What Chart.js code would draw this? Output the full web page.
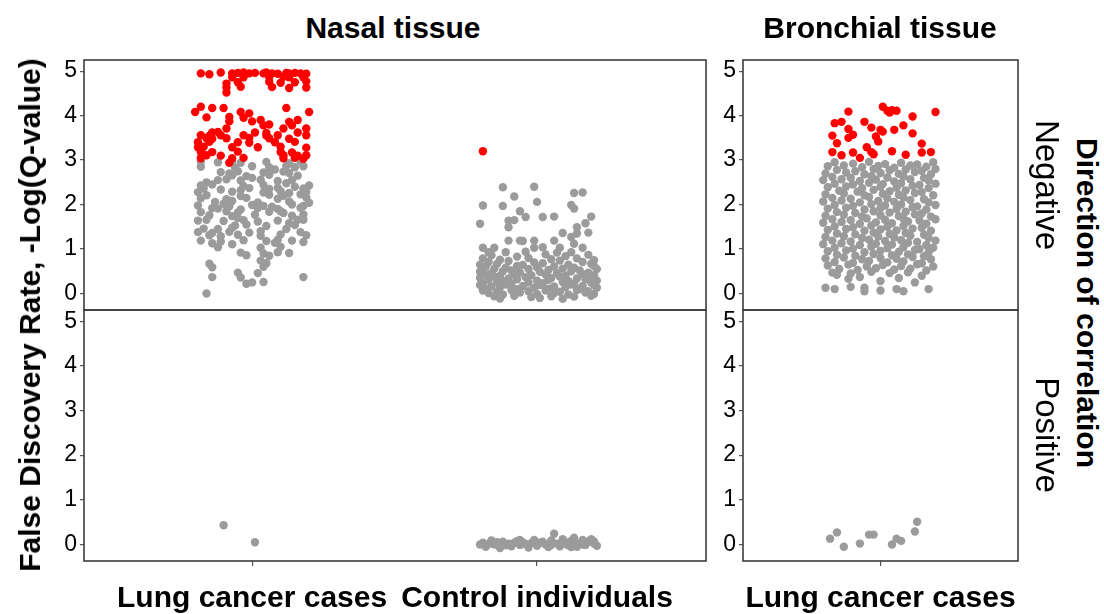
<!DOCTYPE html>
<html>
<head>
<meta charset="utf-8">
<script src="https://cdn.jsdelivr.net/npm/chart.js@4/dist/chart.umd.min.js"></script>
<style>
  *{margin:0;padding:0;box-sizing:border-box}
  html,body{width:1104px;height:614px;background:#fff;overflow:hidden}
  body{position:relative;font-family:'Liberation Sans',Arial,sans-serif;color:#000}
  canvas{position:absolute}
  .lbl{position:absolute;white-space:nowrap;line-height:1}
  .bold{font-weight:bold;font-size:30px}
  .strip{font-size:33px}
  .title{top:13px;transform:translateX(-50%)}
  .rot-l{transform:translate(-50%,-50%) rotate(-90deg)}
  .rot-r{transform:translate(-50%,-50%) rotate(90deg)}
</style>
</head>
<body>
<canvas id="nasalNeg"></canvas>
<canvas id="nasalPos"></canvas>
<canvas id="bronchNeg"></canvas>
<canvas id="bronchPos"></canvas>

<div class="lbl bold title" style="left:393px">Nasal tissue</div>
<div class="lbl bold title" style="left:880px">Bronchial tissue</div>
<div class="lbl bold rot-l" style="left:30px;top:315px">False Discovery Rate, -Log(Q-value)</div>
<div class="lbl strip rot-r" style="left:1047px;top:185px">Negative</div>
<div class="lbl strip rot-r" style="left:1047px;top:435px">Positive</div>
<div class="lbl bold rot-r" style="left:1087px;top:303px">Direction of correlation</div>

<script>
// ─── Data ──────────────────────────────────────────────────────
// x = category position + jitter, y = -log(Q-value)

const nasalCats = ["Lung cancer cases", "Control individuals"];
const bronchCats = ["Lung cancer cases"];
const yTicks = [0, 1, 2, 3, 4, 5];

// Nasal, lung cancer cases, negative correlation (significant)
const nasalLungNegRed = [
  [0.82,4.95],[0.85,4.93],[0.89,4.97],[0.93,4.95],[0.95,4.96],[0.97,4.97],[0.99,4.95],[1.01,4.96],
  [1.04,4.95],[1.05,4.97],[1.07,4.95],[1.09,4.94],[1.12,4.96],[1.13,4.95],[1.15,4.96],[1.17,4.95],
  [1.19,4.94],[0.93,4.86],[0.97,4.86],[1.06,4.86],[1.11,4.87],[1.13,4.86],[1.18,4.86],[0.95,4.75],
  [1.06,4.76],[1.10,4.74],[1.15,4.75],[1.19,4.77],[0.91,4.63],[0.96,4.65],[1.07,4.64],[1.13,4.62],
  [1.19,4.63],[0.91,4.52],[0.91,4.72],
  [0.82,4.20],[0.86,4.17],[0.90,4.17],[1.12,4.17],[0.80,4.08],[1.20,4.08],[0.96,4.08],[0.99,4.05],
  [0.84,3.96],[0.92,3.97],[0.97,3.95],[1.03,3.90],[1.16,3.90],[0.92,3.87],[1.00,3.87],[1.13,3.86],
  [1.04,3.78],[1.06,3.80],[1.14,3.78],[0.91,3.71],[1.11,3.71],[1.19,3.71],[0.86,3.62],[0.88,3.63],
  [1.01,3.62],[1.05,3.61],[1.16,3.62],[0.82,3.56],[0.85,3.55],[0.89,3.56],[0.97,3.56],[1.05,3.55],
  [1.09,3.56],[1.19,3.56],[0.84,3.49],[0.86,3.48],[0.91,3.49],[0.99,3.50],[1.06,3.49],[1.13,3.48],
  [0.81,3.40],[0.85,3.41],[0.95,3.40],[0.99,3.39],[1.08,3.40],[1.15,3.41],[0.81,3.29],[0.83,3.30],
  [0.93,3.29],[1.02,3.29],[1.10,3.30],[1.19,3.28],[0.82,3.18],[0.86,3.18],[0.95,3.19],[1.10,3.18],
  [1.14,3.17],[0.84,3.11],[0.89,3.10],[1.11,3.11],[1.16,3.10],[1.19,3.11],[0.82,3.04],[0.93,3.04],
  [0.97,3.05],[1.11,3.04],[1.15,3.05],[1.18,3.03],[0.92,2.94]
];

// Nasal, lung cancer cases, negative correlation (not significant)
const nasalLungNegGray = [
  [0.82,2.96],[0.88,2.95],[0.93,2.97],[0.96,2.94],[1.05,2.96],[1.13,2.93],[1.17,2.97],
  [0.82,2.85],[0.94,2.83],[1.00,2.86],[1.06,2.84],[1.12,2.87],[1.15,2.84],[1.18,2.86],
  [0.89,2.73],[0.95,2.75],[1.04,2.72],[1.11,2.74],[1.13,2.71],
  [0.93,2.66],[0.98,2.64],[1.06,2.67],[1.16,2.65],
  [0.88,2.55],[0.91,2.57],[0.96,2.54],[1.03,2.56],[1.09,2.53],[1.14,2.55],
  [0.82,2.43],[0.86,2.45],[0.97,2.42],[1.04,2.44],[1.20,2.43],
  [0.83,2.36],[0.89,2.34],[0.99,2.37],[1.06,2.35],[1.09,2.38],[1.18,2.36],
  [0.81,2.28],[0.93,2.29],[1.04,2.27],[1.10,2.30],[1.13,2.26],[1.19,2.28],
  [0.84,2.21],[0.96,2.19],[1.06,2.22],[1.11,2.20],[1.17,2.23],
  [0.82,2.14],[0.91,2.12],[0.98,2.15],[1.09,2.13],[1.19,2.16],
  [0.87,2.06],[0.93,2.08],[1.02,2.05],[1.13,2.07],[1.20,2.04],
  [0.81,1.98],[0.92,1.96],[1.00,1.99],[1.04,1.97],[1.14,2.00],[1.18,1.97],
  [0.88,1.91],[0.96,1.89],[1.02,1.92],[1.09,1.90],[1.17,1.93],
  [0.82,1.83],[0.91,1.85],[0.95,1.82],[1.06,1.84],[1.11,1.81],
  [0.85,1.76],[0.93,1.74],[1.01,1.77],[1.14,1.75],[1.18,1.78],
  [0.81,1.64],[0.84,1.66],[0.90,1.63],[0.97,1.65],[1.02,1.62],[1.09,1.64],[1.16,1.66],
  [0.94,1.53],[0.98,1.55],[1.05,1.52],[1.15,1.54],
  [0.83,1.46],[0.93,1.48],[1.12,1.45],
  [0.81,1.38],[0.86,1.36],[0.92,1.39],[0.99,1.37],[1.17,1.38],
  [0.85,1.31],[0.89,1.29],[0.95,1.32],[1.03,1.30],[1.10,1.33],[1.19,1.31],
  [0.82,1.19],[0.89,1.17],[0.97,1.20],[1.05,1.18],[1.09,1.21],[1.14,1.19],[1.18,1.16],
  [0.86,1.13],[0.93,1.11],[1.08,1.14],
  [0.88,1.04],[1.03,1.03],[1.10,1.05],
  [0.96,0.92],[1.04,0.90],[1.09,0.93],[1.13,0.91],
  [0.98,0.86],[1.06,0.85],[1.03,0.74],[0.85,0.67],[1.05,0.68],[0.86,0.59],[1.04,0.60],
  [0.95,0.47],[1.02,0.46],[0.86,0.37],[0.96,0.36],[1.18,0.37],[1.00,0.25],[1.04,0.26],
  [0.98,0.22],[0.84,0.00],
  [0.84,2.50],[1.00,2.60],[1.12,2.48],[0.90,2.02],[1.07,1.95],[0.95,1.70],[1.13,1.58],
  [0.88,1.45],[1.03,1.40],[1.18,1.66],[0.96,2.32],[1.15,2.40],[0.92,2.70],[1.08,2.79],
  [0.86,1.92],[1.10,1.85]
];

// Nasal, control individuals, negative correlation
const nasalCtrlNegRed = [[1.81,3.20]];
const nasalCtrlNegGray = [
  [1.88,2.39],[1.99,2.40],[2.13,2.26],[2.16,2.27],[1.92,2.18],[2.00,2.06],[1.81,1.98],[1.88,1.97],
  [2.12,1.99],[2.13,1.91],[1.94,1.85],[1.96,1.72],[2.02,1.72],[2.06,1.73],[2.19,1.73],[1.90,1.64],
  [1.92,1.65],[1.80,1.57],[2.17,1.58],[1.90,1.49],[2.14,1.49],[2.09,1.36],[2.14,1.35],[2.18,1.37],
  [2.12,1.27],[1.90,1.19],[1.94,1.19],[1.95,1.18],[1.99,1.19],[2.06,1.19],[2.13,1.12],[1.81,1.03],
  [1.85,1.03],[1.99,1.03],[2.02,1.04],[2.08,1.03],[2.16,1.03],[1.83,0.93],[1.89,0.93],[1.96,0.94],
  [2.07,0.92],[2.12,0.93],
  [1.84,0.86],[1.93,0.83],[2.03,0.88],[2.10,0.84],[2.18,0.87],
  [1.81,0.79],[1.87,0.76],[1.97,0.80],[2.05,0.77],[2.14,0.79],[2.20,0.75],
  [1.83,0.71],[1.90,0.73],[1.99,0.70],[2.08,0.74],[2.16,0.71],
  [1.80,0.65],[1.86,0.67],[1.95,0.64],[2.02,0.68],[2.11,0.65],[2.19,0.67],
  [1.82,0.61],[1.89,0.58],[1.93,0.62],[2.00,0.59],[2.06,0.61],[2.13,0.58],[2.20,0.62],
  [1.81,0.53],[1.85,0.56],[1.91,0.52],[1.97,0.55],[2.04,0.53],[2.09,0.56],[2.15,0.52],[2.21,0.55],
  [1.80,0.49],[1.84,0.46],[1.88,0.50],[1.94,0.47],[2.01,0.49],[2.07,0.46],[2.12,0.50],[2.18,0.47],
  [1.82,0.43],[1.87,0.40],[1.92,0.44],[1.98,0.41],[2.03,0.43],[2.10,0.40],[2.16,0.44],[2.20,0.41],
  [1.80,0.35],[1.85,0.38],[1.90,0.34],[1.96,0.37],[2.05,0.35],[2.08,0.38],[2.14,0.34],[2.19,0.37],
  [1.83,0.31],[1.88,0.28],[1.93,0.32],[2.00,0.29],[2.04,0.31],[2.11,0.28],[2.17,0.32],[2.21,0.29],
  [1.81,0.23],[1.86,0.26],[1.91,0.22],[1.97,0.25],[2.02,0.23],[2.09,0.26],[2.13,0.22],[2.19,0.25],
  [1.80,0.19],[1.84,0.16],[1.89,0.20],[1.95,0.17],[2.01,0.19],[2.06,0.16],[2.12,0.20],[2.16,0.17],
  [2.20,0.19],[1.82,0.11],[1.87,0.14],[1.93,0.10],[1.99,0.13],[2.04,0.11],[2.10,0.14],[2.15,0.10],
  [2.21,0.13],[1.81,0.07],[1.86,0.04],[1.91,0.08],[1.97,0.05],[2.03,0.07],[2.08,0.04],[2.14,0.08],
  [2.18,0.05],[1.83,0.01],[1.88,-0.02],[1.94,0.02],[2.00,-0.01],[2.06,0.01],[2.11,-0.02],[2.17,0.02],
  [2.20,-0.01],[1.85,-0.06],[1.92,-0.05],[1.98,-0.08],[2.05,-0.06],[2.13,-0.07],[2.19,-0.05],
  [1.87,-0.11],[2.01,-0.10],[2.09,-0.12]
];

// Nasal, positive correlation
const nasalLungPosGray = [[0.90,0.43],[1.01,0.05]];
const nasalCtrlPosGray = [
  [1.81,0.04],[1.82,-0.05],[1.84,0.09],[1.85,0.00],[1.87,-0.08],[1.88,0.06],[1.90,0.02],[1.91,-0.04],
  [1.93,0.08],[1.94,-0.01],[1.95,0.05],[1.97,-0.07],[1.98,0.03],[1.99,0.10],[2.00,-0.03],[2.02,0.06],
  [2.03,0.00],[2.04,-0.06],[2.05,0.09],[2.06,0.24],[2.07,0.02],[2.08,-0.04],[2.09,0.12],[2.10,0.05],
  [2.11,-0.02],[2.12,0.08],[2.13,0.15],[2.14,-0.05],[2.15,0.03],[2.16,0.10],[2.17,-0.01],[2.18,0.06],
  [2.19,0.12],[2.20,0.02],[2.21,-0.03],[1.83,0.01],[1.86,0.05],[1.89,-0.02],[1.92,0.04],[1.96,0.01],
  [2.01,0.04],[2.05,-0.01],[2.09,0.01],[2.13,0.02],[2.17,0.05],[2.20,0.07],[1.80,0.00],[1.94,0.10],
  [2.12,-0.06],[2.16,0.00]
];

// Bronchial, lung cancer cases, negative correlation
const bronchNegRed = [
  [0.80,3.83],[0.83,3.86],[0.86,4.09],[0.79,3.55],[0.86,3.70],[0.88,3.57],[0.86,3.50],[0.81,3.38],
  [0.79,3.18],[0.83,3.11],[0.88,3.17],[0.93,3.86],[0.96,3.73],[1.00,3.68],[1.01,3.64],[0.98,3.53],
  [0.99,3.42],[0.94,3.29],[0.96,3.18],[0.97,3.13],[1.01,4.20],[1.03,4.11],[1.05,4.12],[1.07,4.11],
  [1.04,4.07],[1.14,3.98],[1.10,3.78],[1.06,3.68],[1.14,3.60],[1.05,3.20],[1.11,3.12],[1.24,4.08],
  [1.22,3.18],[1.18,3.37],[1.18,3.17],[0.91,3.05]
];
const bronchNegGray = [
  [0.80,2.95],[0.88,2.92],[0.95,2.96],[1.02,2.91],[1.09,2.94],[1.16,2.90],[1.23,2.95],
  [0.77,2.86],[0.84,2.88],[0.92,2.84],[0.99,2.87],[1.06,2.83],[1.13,2.88],[1.20,2.85],
  [0.81,2.78],[0.89,2.75],[0.97,2.80],[1.04,2.77],[1.11,2.79],[1.18,2.76],[1.24,2.80],
  [0.76,2.70],[0.85,2.72],[0.93,2.68],[1.00,2.71],[1.08,2.69],[1.15,2.73],[1.22,2.68],
  [0.79,2.62],[0.87,2.60],[0.96,2.64],[1.03,2.61],[1.10,2.63],[1.19,2.60],
  [0.75,2.55],[0.83,2.57],[0.91,2.53],[0.98,2.56],[1.06,2.52],[1.13,2.57],[1.21,2.54],
  [0.80,2.47],[0.88,2.45],[0.95,2.49],[1.01,2.46],[1.09,2.48],[1.17,2.44],[1.24,2.47],
  [0.77,2.39],[0.85,2.41],[0.92,2.37],[1.00,2.40],[1.07,2.38],[1.14,2.42],[1.21,2.37],
  [0.82,2.31],[0.90,2.29],[0.97,2.33],[1.04,2.30],[1.11,2.32],[1.18,2.28],
  [0.76,2.23],[0.84,2.25],[0.93,2.21],[1.01,2.24],[1.08,2.22],[1.15,2.26],[1.23,2.21],
  [0.79,2.15],[0.87,2.13],[0.95,2.17],[1.03,2.14],[1.10,2.16],[1.19,2.12],
  [0.75,2.07],[0.83,2.09],[0.91,2.05],[0.99,2.08],[1.06,2.06],[1.13,2.10],[1.21,2.05],
  [0.80,1.99],[0.88,1.97],[0.96,2.01],[1.02,1.98],[1.09,2.00],[1.16,1.96],[1.24,1.99],
  [0.77,1.91],[0.85,1.93],[0.93,1.89],[1.00,1.92],[1.07,1.90],[1.14,1.94],[1.20,1.89],
  [0.81,1.83],[0.89,1.81],[0.97,1.85],[1.04,1.82],[1.11,1.84],[1.18,1.80],
  [0.76,1.75],[0.84,1.77],[0.92,1.73],[1.00,1.76],[1.08,1.74],[1.15,1.78],[1.22,1.73],
  [0.79,1.67],[0.87,1.65],[0.94,1.69],[1.02,1.66],[1.10,1.68],[1.17,1.64],[1.24,1.67],
  [0.75,1.59],[0.83,1.61],[0.91,1.57],[0.98,1.60],[1.05,1.58],[1.12,1.62],[1.20,1.57],
  [0.80,1.51],[0.88,1.49],[0.96,1.53],[1.03,1.50],[1.10,1.52],[1.18,1.48],
  [0.77,1.43],[0.85,1.45],[0.93,1.41],[1.00,1.44],[1.07,1.42],[1.14,1.46],[1.22,1.41],
  [0.81,1.35],[0.89,1.33],[0.97,1.37],[1.04,1.34],[1.11,1.36],[1.19,1.32],
  [0.76,1.27],[0.84,1.29],[0.92,1.25],[0.99,1.28],[1.06,1.26],[1.13,1.30],[1.21,1.25],
  [0.79,1.19],[0.87,1.17],[0.95,1.21],[1.02,1.18],[1.09,1.20],[1.16,1.16],[1.24,1.19],
  [0.75,1.11],[0.83,1.13],[0.91,1.09],[0.98,1.12],[1.05,1.10],[1.12,1.14],[1.20,1.09],
  [0.80,1.03],[0.88,1.01],[0.96,1.05],[1.03,1.02],[1.10,1.04],[1.17,1.00],[1.23,1.03],
  [0.77,0.95],[0.85,0.97],[0.93,0.93],[1.00,0.96],[1.08,0.94],[1.15,0.98],[1.21,0.93],
  [0.81,0.87],[0.89,0.85],[0.97,0.89],[1.05,0.86],[1.12,0.88],[1.19,0.84],
  [0.76,0.79],[0.84,0.81],[0.92,0.77],[1.00,0.80],[1.07,0.78],[1.14,0.82],[1.22,0.77],
  [0.80,0.71],[0.88,0.69],[0.95,0.73],[1.03,0.70],[1.10,0.72],[1.18,0.68],
  [0.77,0.63],[0.86,0.65],[0.94,0.61],[1.01,0.64],[1.09,0.62],[1.16,0.66],[1.23,0.61],
  [0.82,0.55],[0.90,0.53],[0.98,0.57],[1.06,0.54],[1.13,0.56],[1.20,0.52],
  [0.79,0.47],[0.87,0.45],[0.96,0.49],[1.04,0.46],[1.12,0.48],
  [0.81,0.42],[0.86,0.33],[0.91,0.37],[1.00,0.28],[1.08,0.35],[1.15,0.25],[1.18,0.40],
  [0.76,0.13],[0.80,0.10],[0.87,0.15],[0.93,0.13],[0.93,0.05],[1.00,0.07],[1.07,0.10],
  [1.10,0.05],[1.21,0.10]
];

// Bronchial, lung cancer cases, positive correlation
const bronchPosGray = [
  [0.78,0.13],[0.81,0.27],[0.84,-0.05],[0.91,0.02],[0.95,0.22],[0.97,0.22],[1.05,0.00],
  [1.07,0.13],[1.09,0.08],[1.15,0.29],[1.16,0.51]
];

// ─── Styling ───────────────────────────────────────────────────

const FONT = "'Liberation Sans', Arial, sans-serif";
const GRAY = "#9b9b9b";
const RED = "#ff0000";
const Y_MIN = -0.37;
const Y_MAX = 5.25;

// facet border drawn around each plotting area
const panelBorder = {
  id: "panelBorder",
  afterDraw(chart) {
    const { ctx, chartArea: a } = chart;
    ctx.save();
    ctx.strokeStyle = "#3c3c3c";
    ctx.lineWidth = 1.6;
    ctx.strokeRect(a.left, a.top, a.right - a.left, a.bottom - a.top);
    ctx.restore();
  },
};

function panel(id, box, opt) {
  const c = document.getElementById(id);
  c.width = box.w;
  c.height = box.h;
  c.style.left = box.left + "px";
  c.style.top = box.top + "px";

  const datasets = opt.series.map((s) => ({
    data: s.data.map(([x, y]) => ({ x, y })),
    backgroundColor: s.color,
    borderWidth: 0,
    pointRadius: 4.2,
    pointHoverRadius: 4.2,
  }));

  new Chart(c, {
    type: "scatter",
    data: { datasets },
    options: {
      responsive: false,
      animation: false,
      devicePixelRatio: 1,
      events: [],
      layout: {
        autoPadding: false,
        padding: { top: 5, right: 5, bottom: opt.showX ? 0 : 1, left: 0 },
      },
      plugins: { legend: { display: false }, tooltip: { enabled: false } },
      scales: {
        x: {
          type: "linear",
          min: opt.xMin,
          max: opt.xMax,
          display: opt.showX,
          afterBuildTicks: (s) => { s.ticks = opt.cats.map((_, i) => ({ value: i + 1 })); },
          afterFit: (s) => {
            s.height = opt.showX ? 53 : 0;
            s.paddingLeft = 0;
            s.paddingRight = 0;
          },
          grid: { drawOnChartArea: false, tickLength: 5, tickColor: "#555", lineWidth: 1.2 },
          border: { display: false },
          ticks: {
            color: "#000",
            font: { family: FONT, size: 30, weight: "bold" },
            padding: 15,
            maxRotation: 0,
            autoSkip: false,
            callback: (v) => opt.cats[v - 1],
          },
        },
        y: {
          min: Y_MIN,
          max: Y_MAX,
          afterBuildTicks: (s) => { s.ticks = yTicks.map((v) => ({ value: v })); },
          afterFit: (s) => { s.width = 43; s.paddingTop = 0; s.paddingBottom = 0; },
          grid: { drawOnChartArea: false, tickLength: 4, tickColor: "#555", lineWidth: 1.2 },
          border: { display: false },
          ticks: { color: "#000", font: { family: FONT, size: 23 }, padding: 3 },
        },
      },
    },
    plugins: [panelBorder],
  });
}

const nasalX = { xMin: 0.41, xMax: 2.593, cats: nasalCats };
const bronchX = { xMin: 0.4, xMax: 1.6, cats: bronchCats };

panel("nasalNeg", { left: 41, top: 55, w: 670, h: 256 }, {
  ...nasalX, showX: false,
  series: [
    { data: nasalLungNegRed, color: RED },
    { data: nasalCtrlNegRed, color: RED },
    { data: nasalLungNegGray, color: GRAY },
    { data: nasalCtrlNegGray, color: GRAY },
  ],
});
panel("nasalPos", { left: 41, top: 305, w: 670, h: 309 }, {
  ...nasalX, showX: true,
  series: [
    { data: nasalLungPosGray, color: GRAY },
    { data: nasalCtrlPosGray, color: GRAY },
  ],
});
panel("bronchNeg", { left: 700, top: 55, w: 323, h: 256 }, {
  ...bronchX, showX: false,
  series: [
    { data: bronchNegRed, color: RED },
    { data: bronchNegGray, color: GRAY },
  ],
});
panel("bronchPos", { left: 700, top: 305, w: 323, h: 309 }, {
  ...bronchX, showX: true,
  series: [{ data: bronchPosGray, color: GRAY }],
});
</script>
</body>
</html>
